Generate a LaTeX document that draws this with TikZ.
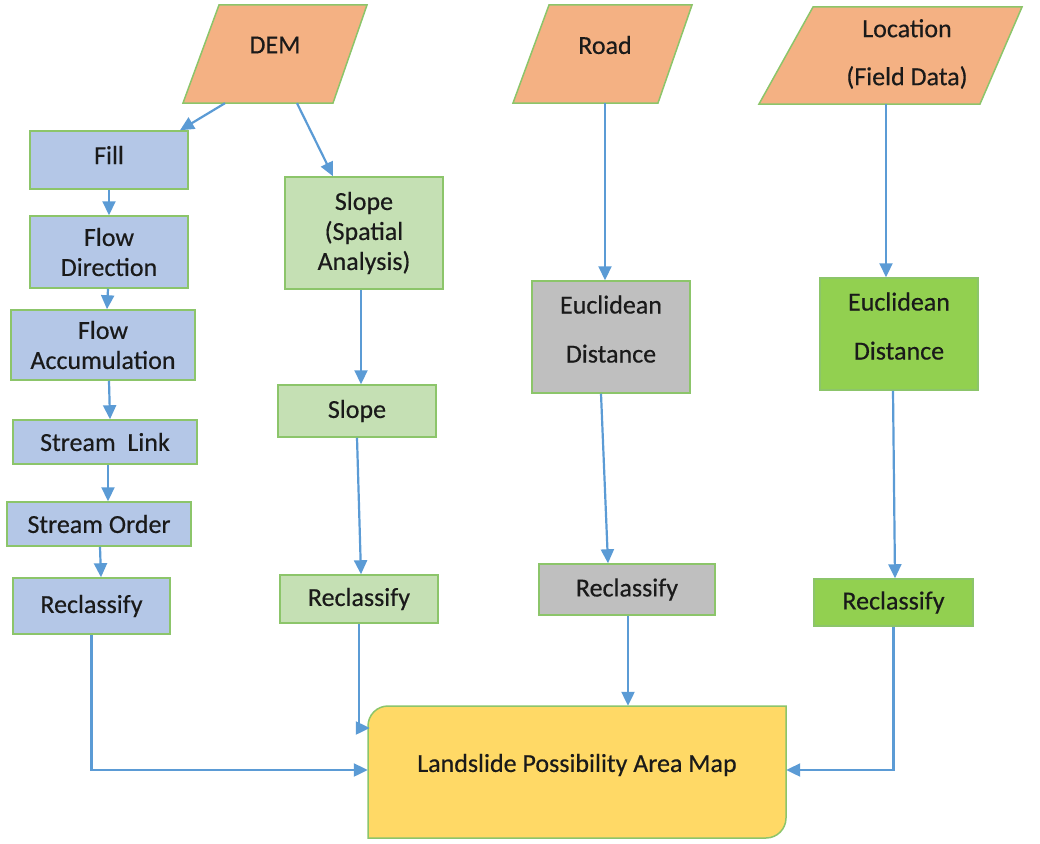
\documentclass[tikz,border=0pt]{standalone}
\usepackage{fontspec}
\setmainfont{Carlito}[FakeBold=0.4]
\usetikzlibrary{arrows.meta,calc}
\definecolor{brd}{HTML}{8CC56A}
\definecolor{orng}{HTML}{F4B183}
\definecolor{blu}{HTML}{B4C7E7}
\definecolor{lgrn}{HTML}{C5E0B4}
\definecolor{gry}{HTML}{BFBFBF}
\definecolor{bgrn}{HTML}{92D050}
\definecolor{yel}{HTML}{FFD966}
\definecolor{arrc}{HTML}{5B9BD5}
\definecolor{txtc}{HTML}{1A1A1A}
\begin{document}
\begin{tikzpicture}[x=1pt,y=-1pt,
  box/.style={draw=brd,line width=1.5pt,rectangle,inner sep=0pt,align=center,
    font=\fontsize{26}{30}\selectfont,text=txtc},
  bluebox/.style={box,fill=blu},
  lgbox/.style={box,fill=lgrn},
  grbox/.style={box,fill=gry},
  bgbox/.style={box,fill=bgrn},
  para/.style={draw=brd,line width=1.5pt,fill=orng},
  ghost/.style={rectangle,inner sep=0pt},
  lbl/.style={inner sep=0pt,align=center,font=\fontsize{26}{30}\selectfont,text=txtc},
  arr/.style={draw=arrc,line width=2.2pt,-{Triangle[length=14pt,width=13pt]}}
]
\useasboundingbox (0,0) rectangle (1040,843);

% input parallelograms
\draw[para] (183,103) -- (333,103) -- (367,5) -- (219,5) -- cycle;
\node[ghost,minimum width=184pt,minimum height=98pt] (dem) at (275,54) {};
\node[lbl] (demtxt) at (275,45) {DEM};

\draw[para] (513,103) -- (658,103) -- (692,5) -- (549,5) -- cycle;
\node[ghost,minimum width=179pt,minimum height=98pt] (road) at (602.5,54) {};
\node[lbl] (roadtxt) at (605,45) {Road};

\draw[para] (759,104) -- (980,104) -- (1022,7) -- (813,7) -- cycle;
\node[ghost,minimum width=263pt,minimum height=97pt] (loc) at (890.5,55.5) {};
\node[lbl] (loctxt) at (907,54) {Location\\[18pt](Field Data)};

% hydrology column
\node[bluebox,minimum width=158pt,minimum height=58pt,text depth=10pt] (fill) at (109,160) {Fill};
\node[bluebox,minimum width=158pt,minimum height=72pt] (fd) at (109,252) {Flow\\Direction};
\node[bluebox,minimum width=184pt,minimum height=70pt] (fa) at (103,345) {Flow\\Accumulation};
\node[bluebox,minimum width=184pt,minimum height=44pt] (sl) at (105,442) {Stream\ \ Link};
\node[bluebox,minimum width=184pt,minimum height=44pt] (so) at (99,524) {Stream Order};
\node[bluebox,minimum width=157pt,minimum height=56pt] (r1) at (91.5,606) {Reclassify};

% slope column
\node[lgbox,minimum width=158pt,minimum height=112pt] (ssa) at (364,233) {Slope\\(Spatial\\Analysis)};
\node[lgbox,minimum width=158pt,minimum height=52pt] (slope) at (357,411) {Slope};
\node[lgbox,minimum width=158pt,minimum height=48pt] (r2) at (359,599) {Reclassify};

% road column
\node[grbox,minimum width=158pt,minimum height=112pt] (ed1) at (611,337) {Euclidean\\[19pt]Distance\\[-14pt]\mbox{}};
\node[grbox,minimum width=176pt,minimum height=51pt] (r3) at (627,589.5) {Reclassify};

% location column
\node[bgbox,minimum width=158pt,minimum height=112pt] (ed2) at (899,334) {Euclidean\\[19pt]Distance\\[-14pt]\mbox{}};
\node[bgbox,minimum width=159pt,minimum height=47pt] (r4) at (893.5,602.5) {Reclassify};

% result
\draw[draw=brd,line width=1.5pt,fill=yel]
  (368,838) -- (368,726) arc[start angle=180,end angle=90,radius=20pt]
  -- (786,706) -- (786,818) arc[start angle=0,end angle=-90,radius=20pt]
  -- cycle;
\node[ghost,minimum width=418pt,minimum height=132pt] (map) at (577,772) {};
\node[lbl] (maptxt) at (577,765) {Landslide Possibility Area Map};

% connectors
\draw[arr] ([xshift=-50pt]dem.south) -- ([xshift=71pt]fill.north);
\draw[arr] ([xshift=22pt]dem.south) -- ([xshift=-31pt]ssa.north);
\draw[arr] (fill.south) -- (fd.north);
\draw[arr] ([xshift=-1pt]fd.south) -- ([xshift=4pt]fa.north);
\draw[arr] ([xshift=6pt]fa.south) -- ([xshift=5pt]sl.north);
\draw[arr] ([xshift=3pt]sl.south) -- ([xshift=9pt]so.north);
\draw[arr] ([xshift=1pt]so.south) -- ([xshift=9.5pt]r1.north);
\draw[arr] (r1.south) |- ([yshift=2pt]map.west);

\draw[arr] ([xshift=-3pt]ssa.south) -- ([xshift=4pt]slope.north);
\draw[arr] (slope.south) -- ([xshift=2pt]r2.north);
\draw[arr] (r2.south) |- ([yshift=44pt,xshift=2pt]map.west);

\draw[arr] ([xshift=2.5pt]road.south) -- ([xshift=-6pt]ed1.north);
\draw[arr] ([xshift=-10pt]ed1.south) -- ([xshift=-19pt]r3.north);
\draw[arr] ([xshift=1pt]r3.south) -- ([xshift=51pt]map.north);

\draw[arr] ([xshift=-4.5pt]loc.south) -- ([xshift=-13pt]ed2.north);
\draw[arr] ([xshift=-6pt]ed2.south) -- ([xshift=1.5pt]r4.north);
\draw[arr] (r4.south) |- ([yshift=2pt]map.east);
\end{tikzpicture}
\end{document}
